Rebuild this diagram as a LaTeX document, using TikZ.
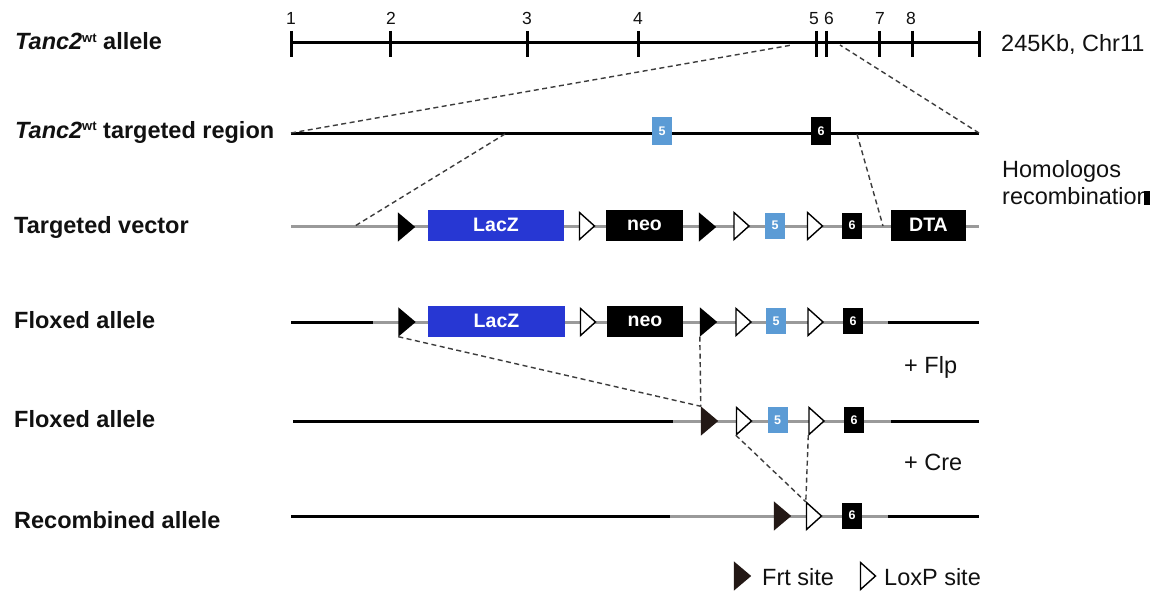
\documentclass[tikz,border=0pt]{standalone}
\usepackage{fontspec}
\setmainfont{Liberation Sans}
\definecolor{vecgray}{HTML}{9A9A9A}
\definecolor{laczblue}{HTML}{2737D3}
\definecolor{exonblue}{HTML}{5B9BD5}
\definecolor{frtdark}{HTML}{231815}
\definecolor{dashgray}{HTML}{3C3C3C}
\definecolor{inkblack}{HTML}{111111}
\tikzset{
  dna/.style={line width=3pt,black},
  vecline/.style={line width=3pt,vecgray},
  tickmark/.style={line width=3pt,black},
  homol/.style={line width=1.4pt,dashgray,dash pattern=on 5pt off 3.5pt},
  rowlabel/.style={anchor=base west,inner sep=0pt,text=inkblack,font=\fontsize{23.5}{26}\selectfont\bfseries},
  plain/.style={anchor=base west,inner sep=0pt,text=inkblack,font=\fontsize{23.5}{26}\selectfont},
  ticknum/.style={anchor=base,inner sep=0pt,text=inkblack,font=\fontsize{17.5}{18}\selectfont},
  sitebox/.style={rectangle,inner sep=0pt,minimum width=17pt,minimum height=29pt},
  loxbox/.style={rectangle,inner sep=0pt,minimum width=16pt,minimum height=28pt},
  cassette/.style={rectangle,inner sep=0pt,minimum height=31pt,text=white,font=\fontsize{19.5}{20}\selectfont\bfseries},
  exonbox/.style={rectangle,inner sep=0pt,minimum width=20pt,minimum height=26pt,text=white,font=\fontsize{12.5}{13}\selectfont\bfseries},
  exonfive/.style={exonbox,fill=exonblue},
  exonsix/.style={exonbox,fill=black},
}
% gene name with small raised wild-type tag
\newcommand\wtgene{\textit{Tanc2}\raisebox{7.5pt}{\fontsize{13}{13}\selectfont wt}}
% Frt site: filled triangle pointing right
\newcommand\frtsite[4][black]{%
  \node[sitebox] (#2) at (#3,#4) {};
  \fill[#1] (#2.north west) -- (#2.east) -- (#2.south west) -- cycle;}
% LoxP site: open triangle pointing right
\newcommand\loxsite[3]{%
  \node[loxbox] (#1) at (#2,#3) {};
  \filldraw[fill=white,draw=black,line width=1.4pt,line join=miter]
    ([shift={(0.7pt,-0.7pt)}]#1.north west) -- ([xshift=-0.7pt]#1.east) -- ([shift={(0.7pt,0.7pt)}]#1.south west) -- cycle;}
\begin{document}
\begin{tikzpicture}[x=1pt,y=-1pt]
\useasboundingbox[fill=white] (0,0) rectangle (1162,594);

% ---------- wild-type locus with exon ticks ----------
\node[rowlabel] (lab1) at (15,50) {\wtgene{} allele};
\draw[dna] (291,43) -- (979,43);
\foreach \x in {291,390,527,638,816,826,879,912,979}
  \draw[tickmark] (\x,31) -- (\x,57);
\node[ticknum] (n1) at (291,25) {1};
\node[ticknum] (n2) at (391,25) {2};
\node[ticknum] (n3) at (527,25) {3};
\node[ticknum] (n4) at (638,25) {4};
\node[ticknum] (n5) at (814,25) {5};
\node[ticknum] (n6) at (829,25) {6};
\node[ticknum] (n7) at (880,25) {7};
\node[ticknum] (n8) at (911,25) {8};
\node[plain] (size) at (1001,52) {245Kb, Chr11};
\coordinate (wtL) at (792,45);
\coordinate (wtR) at (840,45);

% ---------- targeted region ----------
\node[rowlabel] (lab2) at (15,138) {\wtgene{} targeted region};
\coordinate (trS) at (291,133);
\coordinate (trE) at (979,133);
\draw[dna] (trS) -- (trE);
\node[exonfive,minimum height=28pt] (t5) at (662,131) {5};
\node[exonsix,minimum height=28pt] (t6) at (821,131) {6};
\coordinate (armL) at (505,134);
\coordinate (armR) at (857,134);
\draw[homol] (trS) -- (wtL);
\draw[homol] (trE) -- (wtR);

\node[plain] (hr1) at (1002,177) {Homologos};
\node[plain] (hr2) at (1002,204) {recombination};
\fill[black] (1144,191) rectangle (1150,205);

% ---------- targeting vector ----------
\node[rowlabel] (lab3) at (14,233) {Targeted vector};
\draw[vecline] (291,226) -- (979,226);
\coordinate (vL) at (355,226);
\coordinate (vR) at (883,226);
\frtsite{va1}{406.5}{227}
\node[cassette,fill=laczblue,minimum width=136pt] (vlacz) at (496,225) {LacZ};
\loxsite{vl1}{587}{226}
\node[cassette,fill=black,minimum width=77pt] (vneo) at (644.5,225) {neo};
\frtsite{va2}{707.5}{227}
\loxsite{vl2}{741.5}{226}
\node[exonfive] (v5) at (775,225.5) {5};
\loxsite{vl3}{815}{226}
\node[exonsix] (v6) at (852,225.5) {6};
\node[cassette,fill=black,minimum width=75pt] (vdta) at (928.5,225) {DTA};
\draw[homol] (armL) -- (vL);
\draw[homol] (armR) -- (vR);

% ---------- floxed allele ----------
\node[rowlabel] (lab4) at (14,328) {Floxed allele};
\draw[dna] (291,322) -- (374,322);
\draw[vecline] (373,322) -- (889,322);
\draw[dna] (888,322) -- (979,322);
\frtsite{fa1}{407}{322}
\node[cassette,fill=laczblue,minimum width=137pt] (flacz) at (496.5,321) {LacZ};
\loxsite{fl1}{588}{322}
\node[cassette,fill=black,minimum width=76pt] (fneo) at (645,321) {neo};
\frtsite{fa2}{708.5}{322}
\loxsite{fl2}{743.5}{322}
\node[exonfive] (f5) at (776,321) {5};
\loxsite{fl3}{815.5}{322}
\node[exonsix] (f6) at (853,321) {6};
\node[plain] (flp) at (904,373) {+ Flp};

% ---------- floxed allele after Flp ----------
\node[rowlabel] (lab5) at (14,427) {Floxed allele};
\draw[dna] (293,421) -- (674,421);
\draw[vecline] (673,421) -- (892,421);
\draw[dna] (891,421) -- (979,421);
\frtsite[frtdark]{ga1}{709.5}{421}
\loxsite{gl1}{744}{421}
\node[exonfive] (g5) at (777.5,420) {5};
\loxsite{gl2}{816.5}{421}
\node[exonsix] (g6) at (854,420) {6};
\node[plain] (cre) at (904,470) {+ Cre};
\draw[homol] (fa1.south west) -- (ga1.north west);
\draw[homol] (fa2.south west) -- (ga1.north west);

% ---------- recombined allele ----------
\node[rowlabel] (lab6) at (14,528) {Recombined allele};
\draw[dna] (291,516) -- (671,516);
\draw[vecline] (670,516) -- (889,516);
\draw[dna] (888,516) -- (979,516);
\frtsite[frtdark]{ra1}{782.5}{516}
\loxsite{rl1}{814}{516}
\node[exonsix] (r6) at (852,515.5) {6};
\draw[homol] (gl1.south west) -- (rl1.north west);
\draw[homol] (gl2.south west) -- (rl1.north west);

% ---------- legend ----------
\frtsite[frtdark]{kfrt}{742.5}{576}
\node[plain] (kfrtlab) at (762,585) {Frt site};
\loxsite{klox}{868}{576}
\node[plain] (kloxlab) at (884,585) {LoxP site};
\end{tikzpicture}
\end{document}
